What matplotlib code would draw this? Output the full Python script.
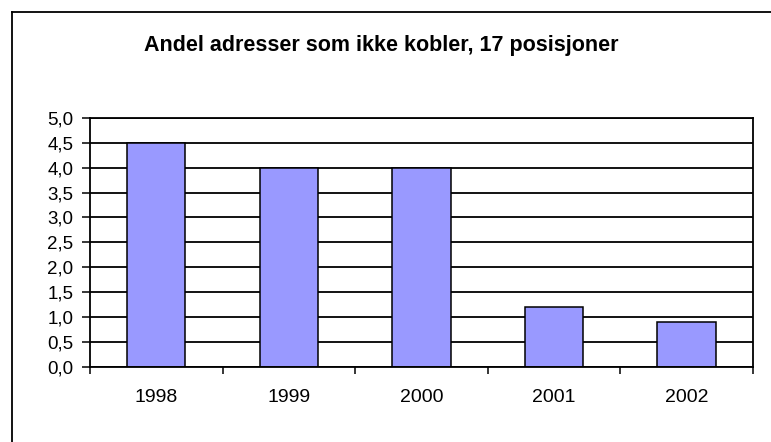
import numpy as np
import matplotlib
matplotlib.use("Agg")
import matplotlib.pyplot as plt
from matplotlib.lines import Line2D

plt.rcParams['font.family'] = ['Liberation Sans', 'DejaVu Sans']

years = ['1998', '1999', '2000', '2001', '2002']
andel = [4.5, 4.0, 4.0, 1.2, 0.9]
yticks = [0.0, 0.5, 1.0, 1.5, 2.0, 2.5, 3.0, 3.5, 4.0, 4.5, 5.0]
title = "Andel adresser som ikke kobler, 17 posisjoner"

fig = plt.figure(figsize=(7.71, 4.42), dpi=100)
ax = fig.add_axes([90/771, 1-366.7/442, (752.7-90)/771, (366.7-118)/442])

x = np.arange(len(years))
ax.set_axisbelow(True)
ax.bar(x, andel, width=0.44, color='#9999FF', edgecolor='black', linewidth=1.1, zorder=2)

ax.set_xlim(-0.5, len(years) - 0.5)
ax.set_ylim(0, 5)
ax.set_yticks(yticks)
ax.set_yticklabels([f"{v:.1f}".replace('.', ',') for v in yticks])
ax.yaxis.grid(True, color='black', linewidth=1.3)

ax.set_xticks(x)
ax.set_xticklabels(years)
ax.set_xticks(np.arange(-0.5, len(years)), minor=True)
ax.tick_params(axis='x', which='major', length=0, pad=16, labelsize=14)
ax.tick_params(axis='x', which='minor', length=5, width=1.1, direction='out')
ax.tick_params(axis='y', length=6, width=1.1, direction='out', pad=6, labelsize=13.5)

for s in ax.spines.values():
    s.set_color('black')
    s.set_linewidth(1.3)

fig.text(381/771, 1-46/442, title, ha='center', va='center', fontsize=15.5, fontweight='bold')

# outer chart border (top and left visible)
fig.add_artist(Line2D([12/771, 1.0], [1-12/442, 1-12/442], transform=fig.transFigure, color='black', lw=1.3))
fig.add_artist(Line2D([12/771, 12/771], [0.0, 1-12/442], transform=fig.transFigure, color='black', lw=1.3))

fig.savefig('out.png', dpi=100)
